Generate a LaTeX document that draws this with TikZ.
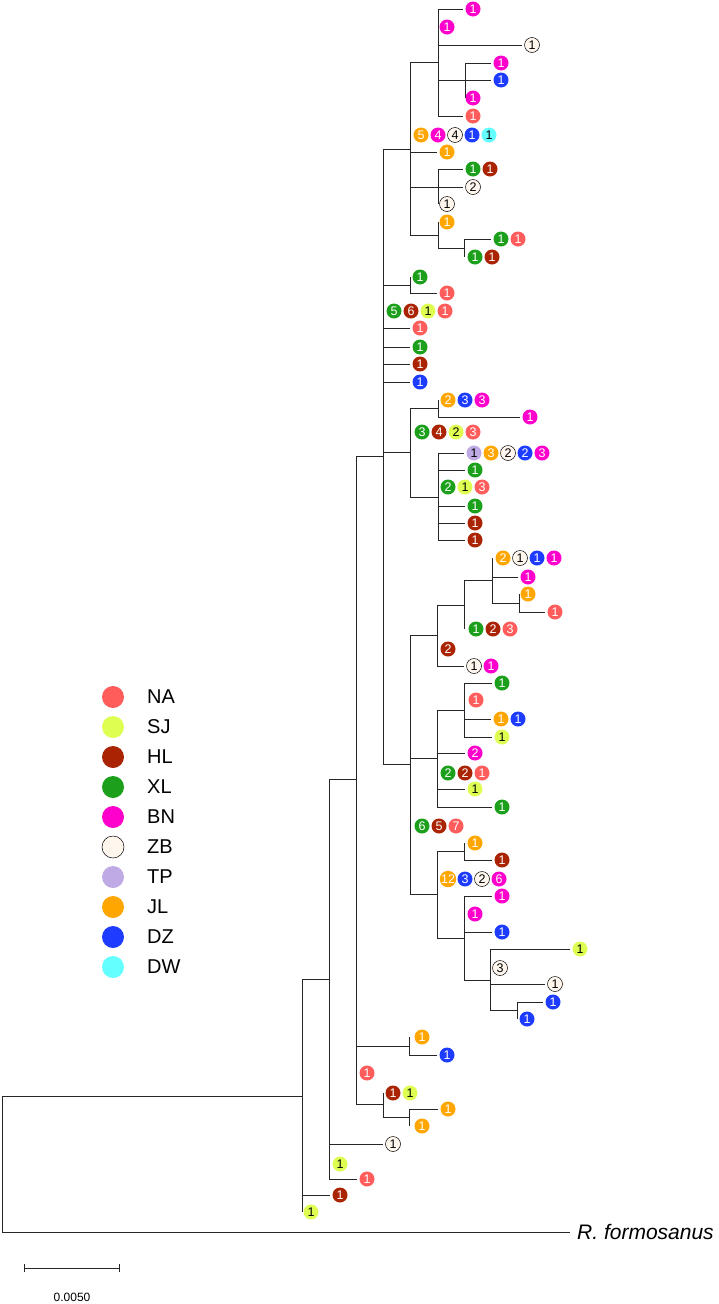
\documentclass[tikz,border=0pt]{standalone}
\usepackage{fontspec}
\setmainfont{Liberation Sans}
\definecolor{cNA}{RGB}{255,92,92}
\definecolor{cSJ}{RGB}{222,255,82}
\definecolor{cHL}{RGB}{170,36,4}
\definecolor{cXL}{RGB}{28,160,28}
\definecolor{cBN}{RGB}{255,0,204}
\definecolor{cZB}{RGB}{255,246,238}
\definecolor{cTP}{RGB}{192,170,230}
\definecolor{cJL}{RGB}{255,166,0}
\definecolor{cDZ}{RGB}{30,60,255}
\definecolor{cDW}{RGB}{100,255,255}
\begin{document}
\begin{tikzpicture}[x=1pt, y=-1pt,
  branch/.style={draw=black!85, line width=0.9pt},
  hap/.style={circle, inner sep=0pt, minimum size=15pt, outer sep=2.5pt, text=white,
    font=\fontsize{12.5}{12.5}\selectfont},
  hapNA/.style={hap, fill=cNA},
  hapSJ/.style={hap, fill=cSJ, text=black},
  hapHL/.style={hap, fill=cHL},
  hapXL/.style={hap, fill=cXL},
  hapBN/.style={hap, fill=cBN},
  hapZB/.style={hap, fill=cZB, draw=black, line width=0.5pt, text=black},
  hapTP/.style={hap, fill=cTP, text=black},
  hapJL/.style={hap, fill=cJL},
  hapDZ/.style={hap, fill=cDZ},
  hapDW/.style={hap, fill=cDW, text=black},
  legtxt/.style={anchor=west, inner sep=0pt, font=\fontsize{20}{20}\selectfont}]
\useasboundingbox (0,0) rectangle (719,1304);

% root and outgroup
\coordinate (root) at (2,1164);
\coordinate (A) at (302,1096);
\node[anchor=west, inner sep=0pt, font=\fontsize{21}{21}\selectfont\itshape] (og) at (577,1232) {R. formosanus};
\draw[branch] (root |- A) -- (root |- og);
\draw[branch] (root |- A) -- (A);
\draw[branch, shorten >=7pt] (root |- og) -- (og);

% A
\node[hapHL] (a1) at (340,1195) {1};
\node[hapSJ] (a2) at (311,1212) {1};
\coordinate (B) at (329,979);
\draw[branch] (A |- B) -- (A |- a2);
\draw[branch] (A |- B) -- (B);
\draw[branch] (A |- a1) -- (a1);

% B
\node[hapZB] (b1) at (393,1144) {1};
\node[hapSJ] (b2) at (340,1164) {1};
\node[hapNA] (b3) at (367,1179) {1};
\coordinate (C) at (356,779);
\draw[branch] (B |- C) -- (B |- b3);
\draw[branch] (B |- C) -- (C);
\draw[branch] (B |- b1) -- (b1);
\draw[branch] (B |- b3) -- (b3);

% C
\coordinate (D) at (383,456);
\coordinate (E) at (409,1046);
\node[hapNA] (c1) at (367,1073) {1};
\coordinate (F) at (383,1104);
\draw[branch] (C |- D) -- (C |- F);
\draw[branch] (C |- D) -- (D);
\draw[branch] (C |- E) -- (E);
\draw[branch] (C |- F) -- (F);

% E
\node[hapJL] (e1) at (422,1037) {1};
\node[hapDZ] (e2) at (447,1055) {1};
\draw[branch] (E |- e1) -- (E |- e2);
\draw[branch] (E |- e2) -- (e2);

% F and G
\node[hapHL] (f1) at (393,1093) {1};
\node[hapSJ] (f2) at (410,1093) {1};
\coordinate (G) at (409,1117);
\draw[branch] (F |- f1) -- (F |- G);
\draw[branch] (F |- G) -- (G);
\node[hapJL] (g1) at (448,1109) {1};
\node[hapJL] (g2) at (422,1126) {1};
\draw[branch] (G |- g1) -- (G |- g2);
\draw[branch] (G |- g1) -- (g1);

% D
\coordinate (H) at (410,149);
\coordinate (I) at (410,285);
\foreach \s/\n [count=\i] in {hapXL/5, hapHL/6, hapSJ/1, hapNA/1}
  \node[\s] (d\i) at ({377+17*\i},311) {\n};
\node[hapNA] (d5) at (420,328) {1};
\node[hapXL] (d6) at (420,347) {1};
\node[hapHL] (d7) at (420,364) {1};
\node[hapDZ] (d8) at (420,382) {1};
\coordinate (J) at (410,452);
\coordinate (K) at (410,764);
\draw[branch] (D |- H) -- (D |- K);
\draw[branch] (D |- H) -- (H);
\draw[branch] (D |- I) -- (I);
\foreach \t in {d5,d6,d7,d8}
  \draw[branch] (D |- \t) -- (\t);
\draw[branch] (D |- J) -- (J);
\draw[branch] (D |- K) -- (K);

% H
\coordinate (L) at (438,62);
\foreach \s/\n [count=\i] in {hapJL/5, hapBN/4, hapZB/4, hapDZ/1, hapDW/1}
  \node[\s] (h\i) at ({404+17*\i},135) {\n};
\node[hapJL] (h6) at (447,152) {1};
\coordinate (M) at (438,187);
\coordinate (N) at (438,235);
\draw[branch] (H |- L) -- (H |- N);
\draw[branch] (H |- L) -- (L);
\draw[branch] (H |- h6) -- (h6);
\draw[branch] (H |- M) -- (M);
\draw[branch] (H |- N) -- (N);

% L and O
\node[hapBN] (l1) at (473,9) {1};
\node[hapBN] (l2) at (447,27) {1};
\node[hapZB] (l3) at (532,45) {1};
\coordinate (O) at (465,80);
\node[hapNA] (l4) at (473,116) {1};
\draw[branch] (L |- l1) -- (L |- l4);
\draw[branch] (L |- l1) -- (l1);
\draw[branch] (L |- l3) -- (l3);
\draw[branch] (L |- O) -- (O);
\draw[branch] (L |- l4) -- (l4);
\node[hapBN] (o1) at (501,63) {1};
\node[hapDZ] (o2) at (501,80) {1};
\node[hapBN] (o3) at (473,98) {1};
\draw[branch] (O |- o1) -- (O |- o3);
\draw[branch] (O |- o1) -- (o1);
\draw[branch] (O |- o2) -- (o2);

% M
\node[hapXL] (m1) at (473,169) {1};
\node[hapHL] (m2) at (490,169) {1};
\node[hapZB] (m3) at (473,187) {2};
\node[hapZB] (m4) at (447,204) {1};
\draw[branch] (M |- m1) -- (M |- m4);
\draw[branch] (M |- m1) -- (m1);
\draw[branch] (M |- m3) -- (m3);

% N and P
\node[hapJL] (n1) at (447,222) {1};
\coordinate (P) at (464,248);
\draw[branch] (N |- n1) -- (N |- P);
\draw[branch] (N |- P) -- (P);
\node[hapXL] (p1) at (501,239) {1};
\node[hapNA] (p2) at (518,239) {1};
\node[hapXL] (p3) at (475,257) {1};
\node[hapHL] (p4) at (492,257) {1};
\draw[branch] (P |- p1) -- (P |- p3);
\draw[branch] (P |- p1) -- (p1);

% I
\node[hapXL] (i1) at (420,277) {1};
\node[hapNA] (i2) at (447,293) {1};
\draw[branch] (I |- i1) -- (I |- i2);
\draw[branch] (I |- i2) -- (i2);

% J
\coordinate (Q) at (438,408);
\foreach \s/\n [count=\i] in {hapXL/3, hapHL/4, hapSJ/2, hapNA/3}
  \node[\s] (j\i) at ({405+17*\i},432) {\n};
\coordinate (S) at (438,497);
\draw[branch] (J |- Q) -- (J |- S);
\draw[branch] (J |- Q) -- (Q);
\draw[branch] (J |- S) -- (S);

% Q
\foreach \s/\n [count=\i] in {hapJL/2, hapDZ/3, hapBN/3}
  \node[\s] (q\i) at ({431+17*\i},400) {\n};
\node[hapBN] (q4) at (530,417) {1};
\draw[branch] (Q |- q1) -- (Q |- q4);
\draw[branch] (Q |- q4) -- (q4);

% S
\foreach \s/\n [count=\i] in {hapTP/1, hapJL/3, hapZB/2, hapDZ/2, hapBN/3}
  \node[\s] (s\i) at ({457+17*\i},453) {\n};
\node[hapXL] (s6) at (475,470) {1};
\foreach \s/\n [count=\i from 7] in {hapXL/2, hapSJ/1, hapNA/3}
  \node[\s] (s\i) at ({329+17*\i},487) {\n};
\node[hapXL] (s10) at (475,506) {1};
\node[hapHL] (s11) at (475,523) {1};
\node[hapHL] (s12) at (475,540) {1};
\draw[branch] (S |- s1) -- (S |- s12);
\foreach \t in {s1,s6,s10,s11,s12}
  \draw[branch] (S |- \t) -- (\t);

% K
\coordinate (T) at (437,635);
\coordinate (U) at (437,758);
\foreach \s/\n [count=\i] in {hapXL/6, hapHL/5, hapNA/7}
  \node[\s] (k\i) at ({405+17*\i},826) {\n};
\coordinate (V) at (437,894);
\draw[branch] (K |- T) -- (K |- V);
\draw[branch] (K |- T) -- (T);
\draw[branch] (K |- U) -- (U);
\draw[branch] (K |- V) -- (V);

% T
\coordinate (W) at (464,605);
\node[hapHL] (t1) at (448,649) {2};
\node[hapZB] (t2) at (474,666) {1};
\node[hapBN] (t3) at (491,666) {1};
\draw[branch] (T |- W) -- (T |- t2);
\draw[branch] (T |- W) -- (W);
\draw[branch] (T |- t2) -- (t2);

% W
\coordinate (X) at (492,580);
\foreach \s/\n [count=\i] in {hapXL/1, hapHL/2, hapNA/3}
  \node[\s] (w\i) at ({459+17*\i},629) {\n};
\draw[branch] (W |- X) -- (W |- w1);
\draw[branch] (W |- X) -- (X);

% X and Y
\foreach \s/\n [count=\i] in {hapJL/2, hapZB/1, hapDZ/1, hapBN/1}
  \node[\s] (x\i) at ({486+17*\i},558) {\n};
\node[hapBN] (x5) at (528,577) {1};
\coordinate (Y) at (519,603);
\draw[branch] (X |- x1) -- (X |- Y);
\draw[branch] (X |- x5) -- (x5);
\draw[branch] (X |- Y) -- (Y);
\node[hapJL] (y1) at (528,594) {1};
\node[hapNA] (y2) at (555,612) {1};
\draw[branch] (Y |- y1) -- (Y |- y2);
\draw[branch] (Y |- y2) -- (y2);

% U
\coordinate (Z) at (464,710);
\node[hapBN] (u1) at (475,753) {2};
\foreach \s/\n [count=\i from 2] in {hapXL/2, hapHL/2, hapNA/1}
  \node[\s] (u\i) at ({414+17*\i},773) {\n};
\node[hapSJ] (u5) at (475,789) {1};
\node[hapXL] (u6) at (502,807) {1};
\draw[branch] (U |- Z) -- (U |- u6);
\draw[branch] (U |- Z) -- (Z);
\foreach \t in {u1,u5,u6}
  \draw[branch] (U |- \t) -- (\t);

% Z
\node[hapXL] (z1) at (502,683) {1};
\node[hapNA] (z2) at (476,700) {1};
\node[hapJL] (z3) at (501,719) {1};
\node[hapDZ] (z4) at (518,719) {1};
\node[hapSJ] (z5) at (502,737) {1};
\draw[branch] (Z |- z1) -- (Z |- z5);
\foreach \t in {z1,z3,z5}
  \draw[branch] (Z |- \t) -- (\t);

% V
\coordinate (AA) at (464,851);
\foreach \s/\n [count=\i] in {hapJL/12, hapDZ/3, hapZB/2, hapBN/6}
  \node[\s] (v\i) at ({431+17*\i},879) {\n};
\coordinate (AB) at (464,938);
\draw[branch] (V |- AA) -- (V |- AB);
\draw[branch] (V |- AA) -- (AA);
\draw[branch] (V |- AB) -- (AB);

% AA
\node[hapJL] (aa1) at (475,843) {1};
\node[hapHL] (aa2) at (502,860) {1};
\draw[branch] (AA |- aa1) -- (AA |- aa2);
\draw[branch] (AA |- aa2) -- (aa2);

% AB
\node[hapBN] (ab1) at (502,896) {1};
\node[hapBN] (ab2) at (475,914) {1};
\node[hapDZ] (ab3) at (502,932) {1};
\coordinate (AC) at (490,980);
\draw[branch] (AB |- ab1) -- (AB |- AC);
\draw[branch] (AB |- ab1) -- (ab1);
\draw[branch] (AB |- ab3) -- (ab3);
\draw[branch] (AB |- AC) -- (AC);

% AC and AD
\node[hapSJ] (ac1) at (580,949) {1};
\node[hapZB] (ac2) at (500,968) {3};
\node[hapZB] (ac3) at (555,984) {1};
\coordinate (AD) at (517,1010);
\draw[branch] (AC |- ac1) -- (AC |- AD);
\draw[branch] (AC |- ac1) -- (ac1);
\draw[branch] (AC |- ac3) -- (ac3);
\draw[branch] (AC |- AD) -- (AD);
\node[hapDZ] (ad1) at (553,1002) {1};
\node[hapDZ] (ad2) at (527,1019) {1};
\draw[branch] (AD |- ad1) -- (AD |- ad2);
\draw[branch] (AD |- ad1) -- (ad1);

% legend
\foreach \s/\t [count=\i] in {hapNA/NA, hapSJ/SJ, hapHL/HL, hapXL/XL, hapBN/BN,
    hapZB/ZB, hapTP/TP, hapJL/JL, hapDZ/DZ, hapDW/DW} {
  \node[\s, minimum size=22pt] (leg\i) at (113,{667+30*\i}) {};
  \node[legtxt] (legt\i) at (147,{667+30*\i}) {\t};
}

% scale bar
\coordinate (sb1) at (24,1268);
\coordinate (sb2) at (119,1268);
\draw[branch, line width=0.7pt] (sb1) -- (sb2);
\draw[branch, line width=0.7pt] ([yshift=-4pt]sb1) -- ([yshift=4pt]sb1);
\draw[branch, line width=0.7pt] ([yshift=-4pt]sb2) -- ([yshift=4pt]sb2);
\node[font=\fontsize{12}{12}\selectfont] (sblab) at (72,1297) {0.0050};
\end{tikzpicture}
\end{document}
